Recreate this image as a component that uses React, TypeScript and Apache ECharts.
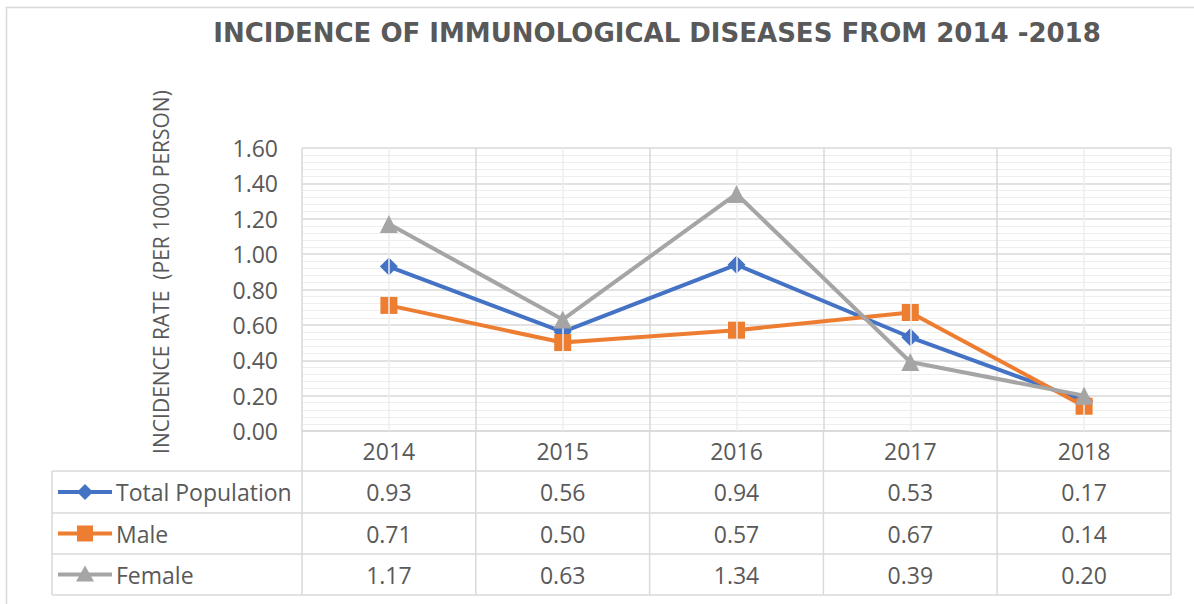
import React, { useEffect, useRef } from "react";
import * as echarts from "echarts";

const titleText = "INCIDENCE OF IMMUNOLOGICAL DISEASES FROM 2014 -2018";
const yAxisTitle = "INCIDENCE RATE  (PER 1000 PERSON)";
const years = ["2014", "2015", "2016", "2017", "2018"];
const totalPopulation = [0.93, 0.56, 0.94, 0.53, 0.17];
const male = [0.71, 0.5, 0.57, 0.67, 0.14];
const female = [1.17, 0.63, 1.34, 0.39, 0.2];
const seriesNames = ["Total Population", "Male", "Female"];
const seriesColors = ["#4472C4", "#ED7D31", "#A5A5A5"];
const seriesSymbols = ["diamond", "rect", "triangle"];
const seriesSizes = [18, 17, 18];

const W = 1194;
const H = 604;
const gridL = 302;
const gridR = 1171;
const gridT = 148;
const gridB = 431;
const tableLeft = 52;
const rowEdges = [431, 471, 513, 554, 595];
const textColor = "#595959";
const lineColor = "#D9D9D9";
const font = "'Open Sans', sans-serif";

export default function App() {
  const ref = useRef<HTMLDivElement>(null);
  useEffect(() => {
    if (!ref.current) return;
    const chart = echarts.init(ref.current, null, { renderer: "svg" });
    const allData = [totalPopulation, male, female];
    const colW = (gridR - gridL) / years.length;
    const graphics: any[] = [];
    // outer border
    graphics.push({
      type: "rect",
      shape: { x: 6.5, y: 7.5, width: 1300, height: 800 },
      style: { fill: "none", stroke: lineColor, lineWidth: 1.5 },
      silent: true,
    });
    // y axis title
    graphics.push({
      type: "text",
      x: 161,
      y: 272,
      rotation: Math.PI / 2,
      style: {
        text: yAxisTitle,
        fill: textColor,
        font: `21px ${font}`,
        align: "center",
        textAlign: "center",
        verticalAlign: "middle",
        textVerticalAlign: "middle",
      },
      silent: true,
    });
    // table horizontal lines
    for (let r = 1; r < rowEdges.length; r++) {
      graphics.push({
        type: "line",
        shape: { x1: tableLeft, y1: rowEdges[r], x2: gridR, y2: rowEdges[r] },
        style: { stroke: lineColor, lineWidth: 1.5 },
        silent: true,
      });
    }
    // table vertical lines
    graphics.push({
      type: "line",
      shape: { x1: tableLeft, y1: rowEdges[1], x2: tableLeft, y2: rowEdges[4] },
      style: { stroke: lineColor, lineWidth: 1.5 },
      silent: true,
    });
    for (let c = 0; c <= years.length; c++) {
      const x = gridL + c * colW;
      graphics.push({
        type: "line",
        shape: { x1: x, y1: rowEdges[0], x2: x, y2: rowEdges[4] },
        style: { stroke: lineColor, lineWidth: 1.5 },
        silent: true,
      });
    }
    // table rows
    allData.forEach((arr, si) => {
      const cy = (rowEdges[si + 1] + rowEdges[si + 2]) / 2;
      graphics.push({
        type: "line",
        shape: { x1: 58, y1: cy, x2: 112, y2: cy },
        style: { stroke: seriesColors[si], lineWidth: 4 },
        silent: true,
      });
      if (si === 0) {
        graphics.push({
          type: "polygon",
          shape: { points: [[85, cy - 8], [93, cy], [85, cy + 8], [77, cy]] },
          style: { fill: seriesColors[si] },
          silent: true,
        });
      } else if (si === 1) {
        graphics.push({
          type: "rect",
          shape: { x: 85 - 8, y: cy - 8, width: 16, height: 16 },
          style: { fill: seriesColors[si] },
          silent: true,
        });
      } else {
        graphics.push({
          type: "polygon",
          shape: { points: [[85, cy - 9], [94, cy + 7], [76, cy + 7]] },
          style: { fill: seriesColors[si] },
          silent: true,
        });
      }
      graphics.push({
        type: "text",
        x: 116,
        y: cy,
        style: {
          text: seriesNames[si],
          fill: textColor,
          font: `23px ${font}`,
          textVerticalAlign: "middle",
          verticalAlign: "middle",
        },
        silent: true,
      });
      arr.forEach((v, ci) => {
        graphics.push({
          type: "text",
          x: gridL + (ci + 0.5) * colW,
          y: cy,
          style: {
            text: v.toFixed(2),
            fill: textColor,
            font: `23px ${font}`,
            align: "center",
            textAlign: "center",
            verticalAlign: "middle",
            textVerticalAlign: "middle",
          },
          silent: true,
        });
      });
    });

    const series: any[] = [
      {
        type: "line",
        data: [],
        z: 1,
        silent: true,
        markLine: {
          silent: true,
          symbol: "none",
          label: { show: false },
          lineStyle: { color: "#EEEEEE", type: "solid", width: 1.5 },
          data: years.map((y) => ({ xAxis: y })),
        },
      },
    ];
    allData.forEach((arr, si) => {
      series.push({
        type: "line",
        name: seriesNames[si],
        data: arr,
        symbol: seriesSymbols[si],
        symbolSize: seriesSizes[si],
        lineStyle: { color: seriesColors[si], width: 4 },
        itemStyle: { color: seriesColors[si] },
        z: 3 + si,
      });
    });

    chart.setOption({
      animation: false,
      backgroundColor: "#ffffff",
      title: {
        text: titleText,
        left: 652,
        top: 15,
        textAlign: "center",
        textStyle: {
          fontFamily: "'DejaVu Sans', sans-serif",
          fontWeight: "bold",
          fontSize: 26,
          color: textColor,
        },
      },
      grid: {
        left: gridL,
        right: W - gridR,
        top: gridT,
        bottom: H - gridB,
        containLabel: false,
      },
      xAxis: {
        type: "category",
        data: years,
        boundaryGap: true,
        axisLine: { show: true, lineStyle: { color: lineColor, width: 1.5 } },
        axisTick: { show: false },
        axisLabel: {
          color: textColor,
          fontFamily: font,
          fontSize: 23,
          margin: 8,
        },
        splitLine: { show: true, lineStyle: { color: lineColor, width: 1.5 } },
      },
      yAxis: {
        type: "value",
        min: 0,
        max: 1.6,
        interval: 0.2,
        axisLine: { show: false },
        axisTick: { show: false },
        axisLabel: {
          color: textColor,
          fontFamily: font,
          fontSize: 23,
          margin: 24,
          formatter: (v: number) => v.toFixed(2),
        },
        splitLine: { show: true, lineStyle: { color: lineColor, width: 1.5 } },
        minorTick: { show: false, splitNumber: 5 },
        minorSplitLine: { show: true, lineStyle: { color: "#EEEEEE", width: 1 } },
      },
      series,
      graphic: graphics,
    });
    return () => chart.dispose();
  }, []);
  return (
    <div
      ref={ref}
      style={{ position: "absolute", left: 0, top: 0, width: W, height: H }}
    />
  );
}
